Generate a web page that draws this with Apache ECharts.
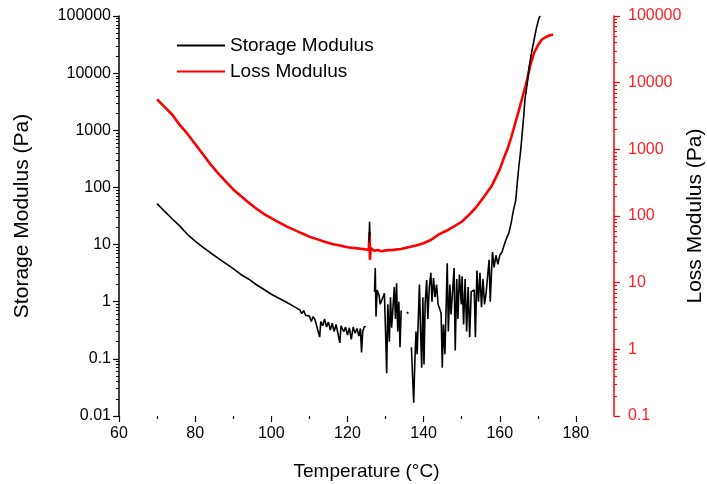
<!DOCTYPE html>
<html>
<head>
<meta charset="utf-8">
<script src="https://cdn.jsdelivr.net/npm/echarts@6/dist/echarts.min.js"></script>
<style>
html, body { margin: 0; padding: 0; background: #fff; }
#chart { width: 707px; height: 484px; }
</style>
</head>
<body>
<div id="chart"></div>
<script>
// storage modulus (black, left axis), null = gap in the trace
const tempStorage = [
  70, 72, 74, 76, 78, 80, 82, 84, 86, 88, 90, 92, 94, 96, 98, 100, 102, 104, 106,
  107.5, 108, 108.5, 109, 110, 110.5, 111, 111.5, 112, 112.7, 113, 113.5, 114, 114.5, 115,
  115.5, 116, 116.5, 117, 117.5, 118, 118.3, 119, 119.5, 120, 120.5, 121, 121.5, 122,
  122.5, 123, 123.4, 123.7, 124, 124.4, 124.8,
  125.2, 125.7, 125.8, 125.9, 126.5,
  127.1, 127.3, 127.5, 127.8, 128.3, 128.6, 129.7, 130.0, 130.3, 130.6, 131.0, 131.3, 131.6,
  132.3, 132.6, 132.9, 133.2, 133.5, 133.8, 134.1,
  134.8, 135.6, 136.0, 136.4,
  136.8, 137.1, 137.4, 137.7, 138.0, 138.3, 138.9, 139.2, 139.5, 139.8, 140.1, 140.4, 140.8,
  141.1, 141.5, 141.9, 142.2, 142.6, 143.0, 143.4, 143.8, 144.6, 144.9, 145.2, 145.6, 146.2,
  146.5, 146.9, 147.2, 148.0, 148.3, 148.7, 149.0, 149.4, 149.9, 150.1, 150.5, 150.9, 151.3,
  151.7, 152.1, 152.5, 153.3, 153.6, 154.0, 154.4, 154.8, 155.2, 155.6, 156.0, 156.4, 157.2,
  157.5, 157.8, 158.1, 158.5, 159.0, 159.5, 160.0, 160.6, 161.2, 161.8, 162.4, 163.0, 163.6,
  164.2, 164.6, 165.0, 165.5, 165.9, 166.3, 166.6, 167.2, 167.7, 168.3, 169.0, 169.6, 170.3, 170.6
];
const storageMod = [
  52, 38, 28, 21, 15, 11.5, 9, 7.2, 5.8, 4.7, 3.8, 3.0, 2.5, 2.0, 1.65, 1.35, 1.15, 0.98, 0.82,
  0.72, 0.62, 0.7, 0.58, 0.56, 0.45, 0.55, 0.48, 0.52, 0.24, 0.45, 0.38, 0.5, 0.36, 0.44,
  0.32, 0.42, 0.3, 0.4, 0.28, 0.19, 0.38, 0.3, 0.36, 0.26, 0.35, 0.22, 0.36, 0.28,
  0.34, 0.25, 0.34, 0.13, 0.3, 0.36, 0.37,
  null, 11, 25, 14, null,
  1.5, 3.9, 0.55, 1.6, 1.3, 0.9, 1.4, 0.3, 0.056, 0.9, 0.2, 1.2, 0.35,
  1.8, 0.5, 2.1, 0.3, 1.0, 0.16, 0.7,
  null, 0.66, 0.62, null,
  0.16, 0.05, 0.017, 0.09, 0.3, 0.12, 2.0, 0.3, 0.07, 1.2, 0.08, 0.9, 2.4,
  0.5, 1.8, 3.2, 1.0, 2.6, 1.2, 2.0, 0.9, 0.63, 0.07, 0.4, 0.12, 4.7,
  0.3, 2.0, 0.6, 3.9, 0.14, 2.5, 0.5, 3.0, 0.9, 2.8, 0.4, 2.5, 0.3,
  1.8, 0.24, 1.5, 1.6, 0.24, 3.5, 1.0, 3.2, 0.8, 2.5, 0.9, 1.4, 5.4,
  1.0, 3.0, 7.4, 4.0, 6.5, 4.5, 6.5, 7.4, 10, 13, 16, 24, 40,
  60, 120, 230, 450, 900, 1800, 3400, 6500, 12800, 22000, 38000, 60000, 92000, 100000
];

// loss modulus (red, right axis)
const tempLoss = [
  70, 72, 74, 76, 78, 80, 82, 84, 86, 88, 90, 92, 94, 96, 98, 100, 102, 104, 106, 108,
  110, 112, 114, 116, 118, 120, 122, 124, 125.6, 125.8, 125.9, 126.1, 127, 128, 129, 130,
  132, 134, 136, 138, 140, 142, 144, 146, 148, 150, 152, 154, 156, 158, 160, 161, 162,
  163, 164, 165, 166, 167, 168, 169, 170, 171, 172, 173, 174
];
const lossMod = [
  5600, 4300, 3300, 2300, 1700, 1200, 850, 600, 440, 330, 250, 200, 160, 130, 108, 93, 80, 70, 62, 55,
  49, 45, 41, 38, 36, 34, 33, 32, 31, 58, 22, 33, 30, 31, 29.5, 30.5,
  31, 32, 34, 36, 39, 44, 53, 60, 70, 82, 105, 140, 200, 290, 500, 720, 1000,
  1500, 2400, 3800, 6200, 10000, 18000, 28000, 36000, 44000, 48000, 51000, 53000
];

// ticks
const xTicks = [60, 80, 100, 120, 140, 160, 180];
const xMinorTicks = [70, 90, 110, 130, 150, 170];
const leftTicks = [0.01, 0.1, 1, 10, 100, 1000, 10000, 100000];
const rightTicks = [0.1, 1, 10, 100, 1000, 10000, 100000];

function minorLog(decades) {
  const out = [];
  for (let i = 0; i < decades.length - 1; i++) {
    for (let k = 2; k <= 9; k++) out.push(+(decades[i] * k).toPrecision(6));
  }
  return out;
}

const FONT = '"Liberation Sans", Arial, sans-serif';
const RED = '#ff0000';
const fmt = v => String(+(+v).toPrecision(6));

const chart = echarts.init(document.getElementById('chart'));

function yAxisBase(min, max, pos, color, ticks) {
  return {
    type: 'log',
    logBase: 10,
    min: min,
    max: max,
    position: pos,
    axisLine: { show: true, onZero: false, lineStyle: { color: color, width: 1.5 } },
    axisTick: { show: true, inside: false, length: 6, customValues: ticks, lineStyle: { color: color, width: 1.2 } },
    axisLabel: { customValues: ticks, formatter: fmt, color: color, fontFamily: FONT, fontSize: 16, margin: 8 },
    splitLine: { show: false }
  };
}

const leftMain = yAxisBase(0.01, 100000, 'left', '#000', leftTicks);
leftMain.name = 'Storage Modulus (Pa)';
leftMain.nameLocation = 'middle';
leftMain.nameGap = 86;
leftMain.nameMoveOverlap = false;
leftMain.nameTextStyle = { color: '#000', fontFamily: FONT, fontSize: 21 };

const rightMain = yAxisBase(0.1, 100000, 'right', RED, rightTicks);
rightMain.axisLabel.color = '#ff2020';
rightMain.axisLabel.margin = 14;
rightMain.name = 'Loss Modulus (Pa)';
rightMain.nameLocation = 'middle';
rightMain.nameGap = 71;
rightMain.nameMoveOverlap = false;
rightMain.nameTextStyle = { color: '#000', fontFamily: FONT, fontSize: 21 };

function minorY(min, max, pos, color, ticks) {
  return {
    type: 'log',
    logBase: 10,
    min: min,
    max: max,
    position: pos,
    axisLine: { show: false },
    axisTick: { show: true, length: 3, customValues: ticks, lineStyle: { color: color, width: 1 } },
    axisLabel: { show: false },
    splitLine: { show: false }
  };
}

const option = {
  animation: false,
  backgroundColor: '#fff',
  grid: { left: 119, right: 93, top: 16, bottom: 68, outerBoundsMode: 'none', containLabel: false },
  legend: {
    orient: 'vertical',
    left: 171,
    top: 31,
    itemWidth: 48,
    itemHeight: 14,
    itemGap: 7,
    itemStyle: { opacity: 0 },
    textStyle: { color: '#000', fontFamily: FONT, fontSize: 19 },
    data: ['Storage Modulus', 'Loss Modulus']
  },
  xAxis: [
    {
      type: 'value',
      min: 60,
      max: 190,
      name: 'Temperature (\u00b0C)',
      nameLocation: 'middle',
      nameGap: 46,
      nameMoveOverlap: false,
      nameTextStyle: { color: '#000', fontFamily: FONT, fontSize: 19 },
      axisLine: { show: false },
      axisTick: { show: true, length: 6, customValues: xTicks, lineStyle: { color: '#000', width: 1.2 } },
      axisLabel: { customValues: xTicks, color: '#000', fontFamily: FONT, fontSize: 16, margin: 10 },
      splitLine: { show: false }
    },
    {
      type: 'value',
      min: 60,
      max: 190,
      position: 'bottom',
      axisLine: { show: false },
      axisTick: { show: true, length: 3, customValues: xMinorTicks, lineStyle: { color: '#000', width: 1.2 } },
      axisLabel: { show: false },
      splitLine: { show: false }
    }
  ],
  yAxis: [
    leftMain,
    minorY(0.01, 100000, 'left', '#000', minorLog(leftTicks)),
    rightMain,
    minorY(0.1, 100000, 'right', RED, minorLog(rightTicks))
  ],
  series: [
    {
      name: 'Storage Modulus',
      type: 'line',
      yAxisIndex: 0,
      symbol: 'none',
      connectNulls: false,
      color: '#000',
      lineStyle: { color: '#000', width: 1.6 },
      data: tempStorage.map((t, i) => [t, storageMod[i] === null ? '-' : storageMod[i]]),
      z: 3
    },
    {
      name: 'Loss Modulus',
      type: 'line',
      yAxisIndex: 2,
      symbol: 'none',
      color: RED,
      lineStyle: { color: RED, width: 2.6 },
      data: tempLoss.map((t, i) => [t, lossMod[i]]),
      z: 2
    }
  ]
};

chart.setOption(option);
</script>
</body>
</html>
